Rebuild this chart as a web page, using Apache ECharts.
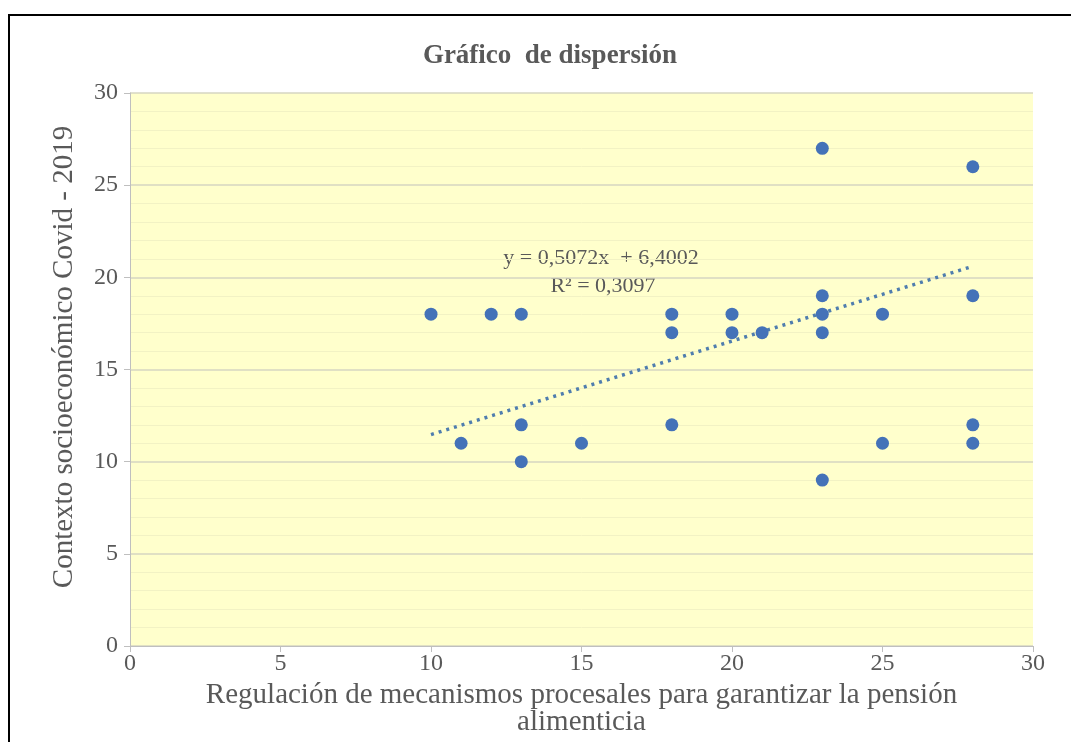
<!DOCTYPE html>
<html>
<head>
<meta charset="utf-8">
<script src="https://cdn.jsdelivr.net/npm/echarts@6/dist/echarts.min.js"></script>
<style>
html,body{margin:0;padding:0;background:#fff;}
#frame{position:absolute;left:8px;top:14px;width:1100px;height:800px;border:2px solid #000;box-sizing:border-box;}
#chart{position:absolute;left:0;top:0;width:1071px;height:742px;}
</style>
</head>
<body>
<div id="frame"></div>
<div id="chart"></div>
<script>
var xValues = [10, 11, 12, 13, 13, 13, 15, 18, 18, 18, 20, 20, 21, 23, 23, 23, 23, 23, 25, 25, 28, 28, 28, 28];
var yValues = [18, 11, 18, 18, 12, 10, 11, 18, 17, 12, 18, 17, 17, 27, 19, 18, 17, 9, 18, 11, 26, 19, 12, 11];
var trendX = [10, 28];
var trendY = [11.47, 20.6];
var xTicks = [0, 5, 10, 15, 20, 25, 30];
var yTicks = [0, 5, 10, 15, 20, 25, 30];
var titleText = 'Gráfico  de dispersión';
var xName = 'Regulación de mecanismos procesales para garantizar la pensión\nalimenticia';
var yName = 'Contexto socioeconómico Covid - 2019';
var eqLines = ['y = 0,5072x  + 6,4002', 'R² = 0,3097'];

var points = xValues.map(function (x, i) { return [x, yValues[i]]; });
var trend = trendX.map(function (x, i) { return [x, trendY[i]]; });

var serif = '"Liberation Serif", "DejaVu Serif", serif';
var chart = echarts.init(document.getElementById('chart'), null, {renderer: 'canvas'});
chart.setOption({
  animation: false,
  backgroundColor: 'transparent',
  title: {
    text: titleText,
    left: 545, top: 38, textAlign: 'center',
    textStyle: {fontFamily: serif, fontWeight: 'bold', fontSize: 27, color: '#595959'}
  },
  grid: {left: 130, right: 38, top: 93, bottom: 91, show: true, backgroundColor: '#FFFFCC', borderWidth: 0},
  xAxis: {
    type: 'value', min: 0, max: 30, interval: 5,
    name: xName, nameLocation: 'middle', nameGap: 36,
    nameTextStyle: {fontFamily: serif, fontSize: 29, color: '#595959', lineHeight: 27},
    axisLine: {show: true, lineStyle: {color: '#BFBFBF', width: 1}},
    axisTick: {show: true, length: 6, lineStyle: {color: '#BFBFBF'}},
    axisLabel: {fontFamily: serif, fontSize: 24, color: '#595959', margin: 6,
      formatter: function (v) { return xTicks.indexOf(v) >= 0 ? String(v) : ''; }},
    splitLine: {show: false},
    minorTick: {show: false}
  },
  yAxis: {
    type: 'value', min: 0, max: 30, interval: 5,
    axisLine: {show: true, lineStyle: {color: '#BFBFBF', width: 1}},
    axisTick: {show: true, length: 6, lineStyle: {color: '#BFBFBF'}},
    axisLabel: {fontFamily: serif, fontSize: 24, color: '#595959', margin: 12,
      formatter: function (v) { return yTicks.indexOf(v) >= 0 ? String(v) : ''; }},
    splitLine: {show: true, lineStyle: {color: '#D6D6C2', width: 1.5}},
    minorTick: {show: false, splitNumber: 5},
    minorSplitLine: {show: true, lineStyle: {color: '#F2F2C4', width: 1}}
  },
  series: [
    {
      type: 'line', data: trend, symbol: 'none', silent: true, z: 2,
      lineStyle: {type: [3, 5], width: 3.5, color: '#4F7DAE', cap: 'butt'}
    },
    {
      type: 'scatter', data: points, symbol: 'circle', symbolSize: 13, z: 3,
      itemStyle: {color: '#4472B8', opacity: 1}
    }
  ],
  graphic: [
    {type: 'text', x: 64, y: 357, rotation: Math.PI / 2,
     style: {text: yName, fontFamily: serif, fontSize: 29, fill: '#595959', textAlign: 'center', textVerticalAlign: 'middle'}},
    {type: 'text', x: 601, y: 247,
     style: {text: eqLines[0], fontFamily: serif, fontSize: 22, fill: '#595959', textAlign: 'center'}},
    {type: 'text', x: 603, y: 275,
     style: {text: eqLines[1], fontFamily: serif, fontSize: 22, fill: '#595959', textAlign: 'center'}}
  ]
});
</script>
</body>
</html>
